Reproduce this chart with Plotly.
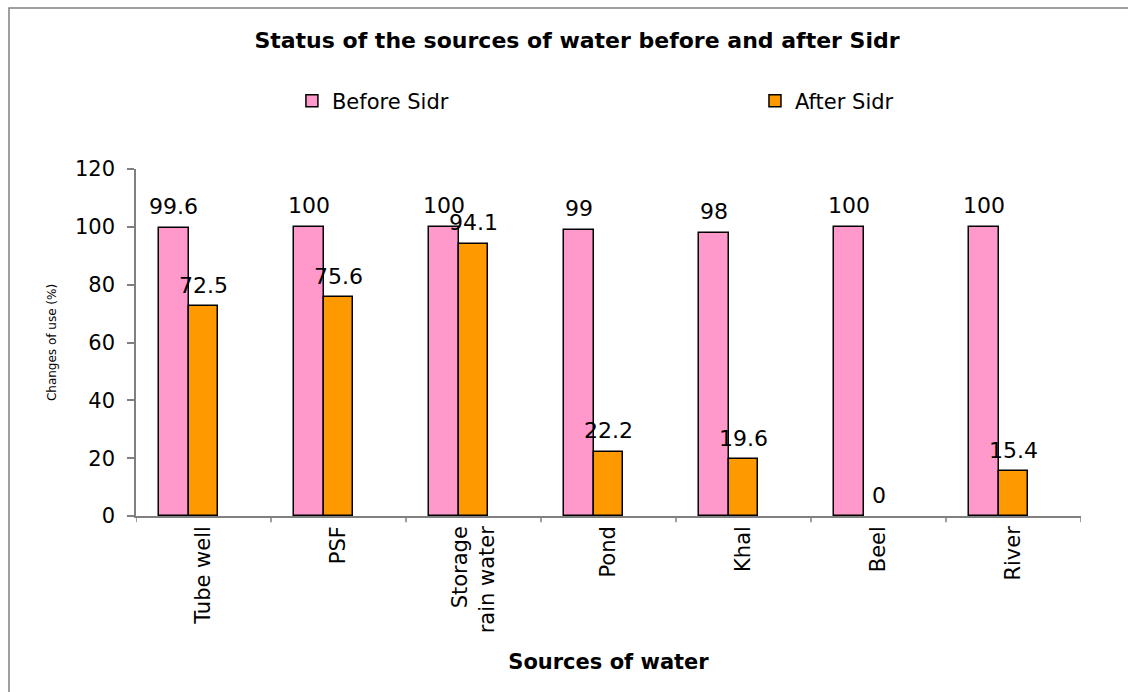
import plotly.graph_objects as go

# Water sources and share of use (%) before / after cyclone Sidr
sources = ["Tube well", "PSF", "Storage<br>rain water", "Pond", "Khal", "Beel", "River"]
before_sidr = [99.6, 100, 100, 99, 98, 100, 100]
after_sidr = [72.5, 75.6, 94.1, 22.2, 19.6, 0, 15.4]
y_ticks = [0, 20, 40, 60, 80, 100, 120]

PINK = "#FF99CC"
ORANGE = "#FF9900"
GRAY = "#808080"
FONT = "DejaVu Sans"

x_idx = list(range(len(sources)))


def outline_widths(values):
    # no outline on empty bars, so a zero value leaves no mark
    return [1.5 if v > 0 else 0 for v in values]


fig = go.Figure()
fig.add_trace(go.Bar(
    name="Before Sidr", x=x_idx, y=before_sidr,
    width=0.222, offset=-0.333, legend="legend",
    marker=dict(color=PINK, line=dict(color="black", width=outline_widths(before_sidr))),
))
fig.add_trace(go.Bar(
    name="After Sidr", x=x_idx, y=after_sidr,
    width=0.222, offset=-0.111, legend="legend2",
    marker=dict(color=ORANGE, line=dict(color="black", width=outline_widths(after_sidr))),
))

# Value labels above each bar
for i, (b, a) in enumerate(zip(before_sidr, after_sidr)):
    fig.add_annotation(x=i, y=b, text=f"{b:g}", showarrow=False,
                       xshift=-30, yshift=21,
                       font=dict(family=FONT, size=22, color="black"))
    fig.add_annotation(x=i, y=a, text=f"{a:g}", showarrow=False,
                       xshift=0, yshift=21,
                       font=dict(family=FONT, size=22, color="black"))

# Chart frame
fig.add_shape(type="rect", xref="paper", yref="paper",
              x0=-0.1344, x1=1.06, y0=-0.52, y1=1.464,
              line=dict(color=GRAY, width=1.5), fillcolor="rgba(0,0,0,0)",
              layer="below")

legend_style = dict(orientation="h", yanchor="middle", y=1.196, xanchor="left",
                    font=dict(family=FONT, size=21, color="black"),
                    bgcolor="rgba(0,0,0,0)")

fig.update_layout(
    width=1128, height=692,
    margin=dict(l=136, r=47, t=169, b=176),
    paper_bgcolor="white", plot_bgcolor="white",
    font=dict(family=FONT, color="black"),
    title=dict(text="<b>Status of the sources of water before and after Sidr</b>",
               x=0.5115, xanchor="center", y=0.942, yanchor="middle",
               font=dict(family=FONT, size=22, color="black")),
    legend=dict(x=0.165, **legend_style),
    legend2=dict(x=0.655, **legend_style),
    bargap=0, bargroupgap=0,
    showlegend=True,
)

fig.update_xaxes(
    tickmode="array", tickvals=x_idx, ticktext=sources,
    range=[-0.5, len(sources) - 0.5],
    tickangle=-90, tickfont=dict(family=FONT, size=21, color="black"),
    showline=True, linecolor=GRAY, linewidth=1.5,
    ticks="", showgrid=False, zeroline=False,
    title=dict(text="<b>Sources of water</b>", font=dict(family=FONT, size=21, color="black"),
               standoff=22),
)
# Boundary ticks between categories
for k in range(len(sources) + 1):
    fig.add_shape(type="line", xref="x", yref="paper",
                  x0=k - 0.5, x1=k - 0.5, y0=0, y1=-0.018,
                  line=dict(color=GRAY, width=1.5))

fig.update_yaxes(
    range=[0, 120], tickvals=y_ticks,
    tickfont=dict(family=FONT, size=21, color="black"),
    ticks="outside", ticklen=7, tickcolor=GRAY, tickwidth=1.5,
    ticklabelstandoff=8,
    showline=True, linecolor=GRAY, linewidth=1.5,
    showgrid=False, zeroline=False,
    title=dict(text="Changes of use (%)", font=dict(family=FONT, size=12, color="black"),
               standoff=16),
)

fig.write_html("out.html")
